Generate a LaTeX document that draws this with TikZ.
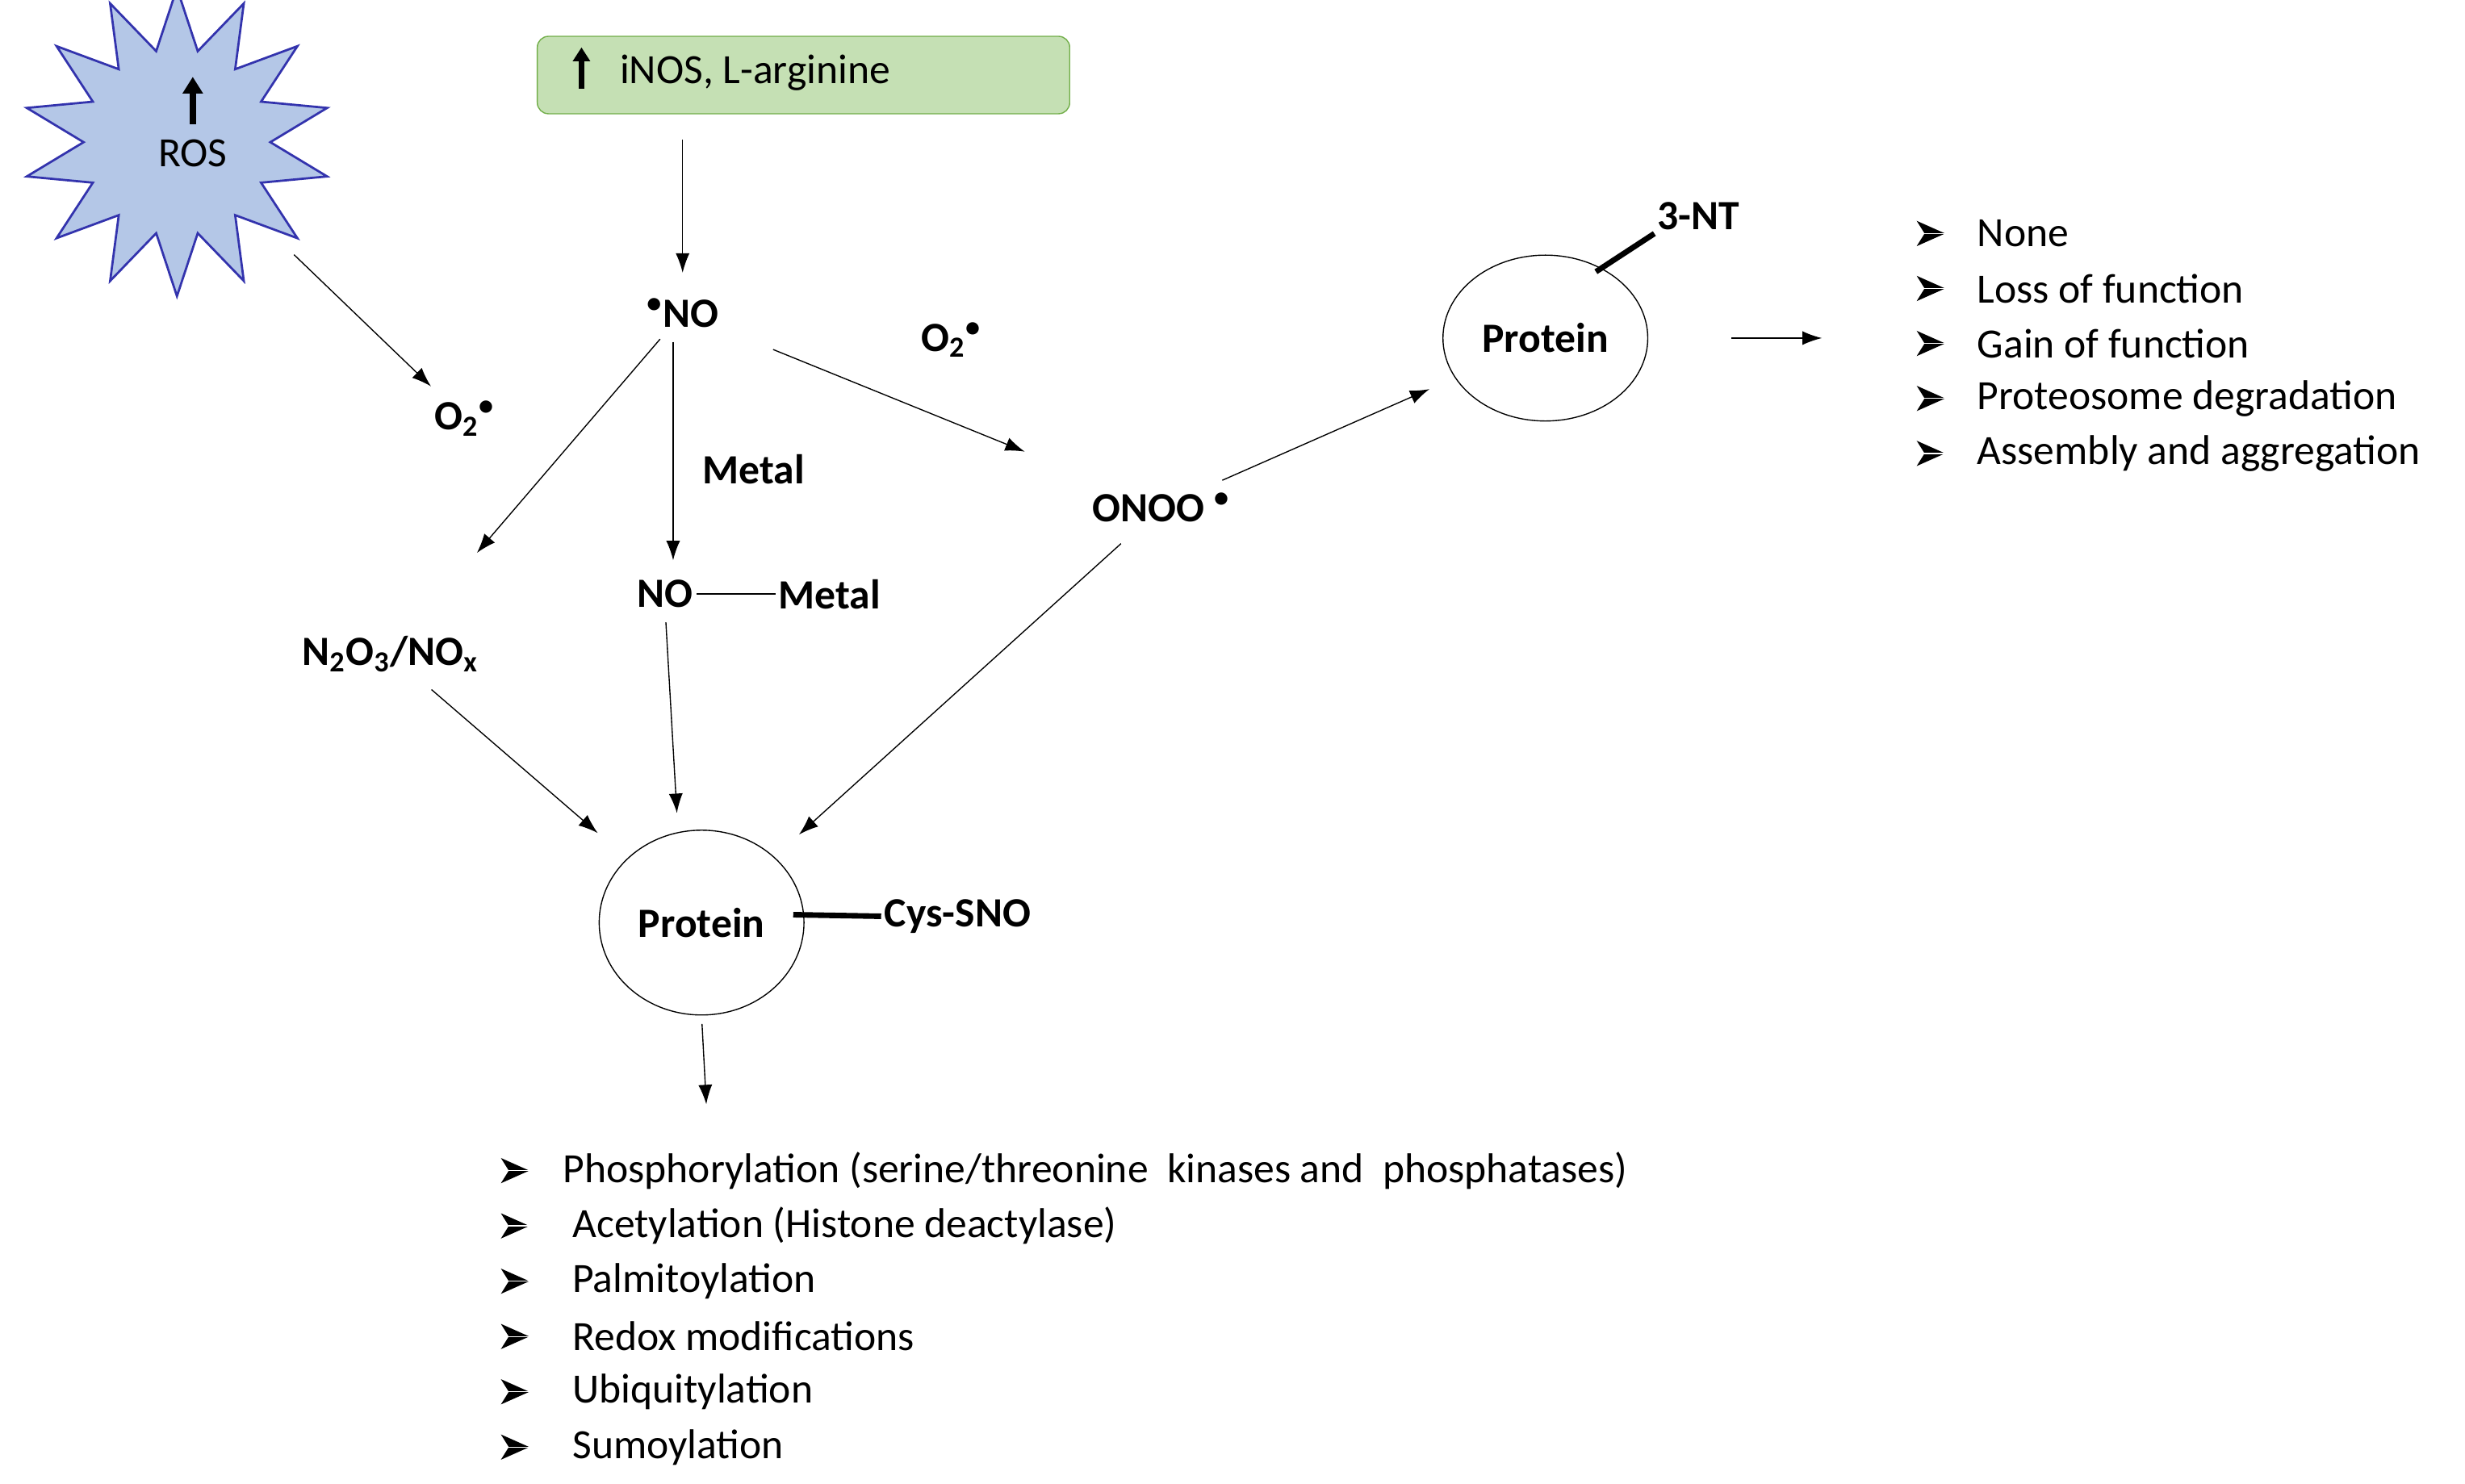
\documentclass[tikz,border=0pt]{standalone}
\usepackage{fontspec}
\setmainfont{Carlito}
\usetikzlibrary{shapes.geometric, arrows.meta, positioning}

\tikzset{
  arr/.style={-{Latex[length=7pt,width=5pt]}, thin},
  lbl/.style={font=\bfseries\fontsize{15}{18}\selectfont, inner sep=1pt},
  txt/.style={font=\fontsize{15}{18}\selectfont, anchor=west, inner sep=0pt},
  prot/.style={ellipse, draw, thin, font=\bfseries\fontsize{15}{18}\selectfont},
  pics/bul/.style={code={
    \fill (0,-8) -- (18,0) -- (0,8) -- (5,0) -- cycle;
    \draw[white, thin] (5,0) -- (18,0);}}
}

\begin{document}
\begin{tikzpicture}[x=0.02cm, y=-0.02cm]
  \useasboundingbox (0,0) rectangle (1560,939);

  % sources
  \node[star, star points=14, star point ratio=1.65, minimum size=3.9cm,
        draw=blue!60!black!80, fill={rgb,255:red,180;green,199;blue,231}, thick] (ros) at (112,90) {};
  \node[font=\fontsize{15}{18}\selectfont] (rostxt) at (122,97) {ROS};
  \draw[-{Triangle[length=6pt,width=7pt]}, line width=2.2pt] ([yshift=2pt]rostxt.north) -- ++(0,-30);
  \node[draw={rgb,255:red,112;green,173;blue,71}, fill={rgb,255:red,197;green,224;blue,180},
        rounded corners=4pt, minimum width=6.74cm, minimum height=0.98cm] (inos) at (508.5,47.5) {};
  \node[txt] (inostxt) at (392,46) {iNOS, L-arginine};
  \draw[-{Triangle[length=5pt,width=6pt]}, line width=1.8pt] (368,56) -- (368,30);

  % species
  \node[lbl] (no) at (432,198) {\textsuperscript{•}NO};
  \node[lbl] (o2a) at (294,265) {O\textsubscript{2}\textsuperscript{•}};
  \node[lbl] (nox) at (247,414) {N\textsubscript{2}O\textsubscript{3}/NO\textsubscript{x}};
  \node[lbl] (metal) at (477,297) {Metal};
  \node[lbl] (nom) at (421,376) {NO};
  \node[lbl] (nomb) at (525,376) {Metal};
  \node[lbl] (o2b) at (602,215) {O\textsubscript{2}\textsuperscript{•}};
  \node[lbl] (onoo) at (735,321) {ONOO \textsuperscript{•}};
  \draw (nom.east) -- (nomb.west);

  % proteins
  \node[prot, minimum width=2.2cm, minimum height=2.1cm] (p1) at (978,214) {Protein};
  \node[lbl] (nt) at (1075,137) {3-NT};
  \draw[line width=2pt] (1010,172) -- (nt.south west);
  \node[prot, minimum width=2.5cm, minimum height=2.34cm] (p2) at (444,584) {Protein};
  \node[lbl] (sno) at (606,580) {Cys-SNO};
  \draw[line width=2pt] (502,579) -- (sno.west);

  % arrows
  \draw[arr] (inos.south -| no) ++(0,16) coordinate (a1) (a1) -- ([yshift=8pt]no.north);
  \draw[arr, shorten <=14pt, shorten >=6pt] (ros) -- (o2a);
  \draw[arr, shorten <=4pt, shorten >=38pt] (no) -- (nox);
  \draw[arr, shorten <=4pt, shorten >=6pt] (no.south -| 426,0) -- (nom.north -| 426,0);
  \draw[arr, shorten <=20pt, shorten >=36pt] (no) -- (onoo);
  \draw[arr, shorten <=8pt, shorten >=10pt] (onoo) -- (p1);
  \draw[arr, shorten <=8pt, shorten >=14pt] (nox) -- (p2);
  \draw[arr, shorten <=4pt, shorten >=6pt] (nom.south) -- (p2.north -| 429,0);
  \draw[arr, shorten <=10pt, shorten >=12pt] (onoo) -- (p2);
  \coordinate (r1) at (1153,214);
  \draw[arr, shorten <=30pt] (p1) -- (r1);
  \coordinate (r2) at (447,699);
  \draw[arr, shorten <=3pt] (p2.south) -- (r2);

  % outcome lists
  \foreach \t [count=\i] in {None, Loss of function, Gain of function,
      Proteosome degradation, Assembly and aggregation}
    {\pic at (1213,113+34.8*\i) {bul};
     \node[txt] (out\i) at (1251,113+34.8*\i) {\t};}
  \foreach \t [count=\i] in {{Phosphorylation (serine/threonine\ \ kinases and\ \ phosphatases)},
      {Acetylation (Histone deactylase)}, Palmitoylation, Redox modifications,
      Ubiquitylation, Sumoylation}
    {\pgfmathsetmacro\xx{\i==1 ? 356 : 362}
     \pic at (317,706+35*\i) {bul};
     \node[txt] (mod\i) at (\xx,706+35*\i) {\t};}
\end{tikzpicture}
\end{document}
